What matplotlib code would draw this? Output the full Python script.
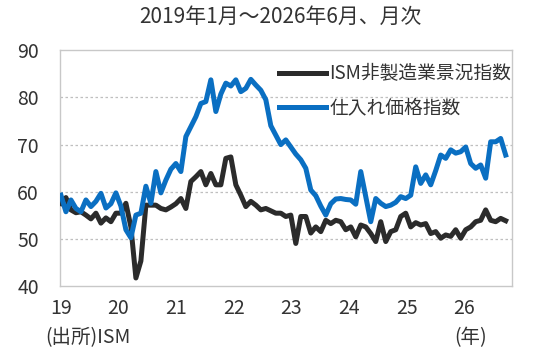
import numpy as np
import matplotlib
matplotlib.use('Agg')
import matplotlib.pyplot as plt

plt.rcParams['font.family'] = ['Noto Sans CJK JP', 'DejaVu Sans']

# monthly, 2019/01 - 2026/06
ism_services = [
    57.6, 58.8, 56.2, 55.6, 55.8, 55.1, 54.3, 55.5, 53.4, 54.5, 53.7, 55.5,   # 2019
    55.5, 57.6, 52.6, 41.8, 45.4, 57.2, 57.2, 57.2, 56.5, 56.2, 56.8, 57.5,   # 2020
    58.6, 56.5, 62.2, 63.2, 64.3, 61.5, 63.9, 61.5, 61.5, 67.1, 67.4, 61.5,   # 2021
    59.3, 56.9, 58.0, 57.2, 56.2, 56.5, 56.0, 55.5, 55.5, 54.8, 55.1, 49.1,   # 2022
    54.8, 54.8, 51.3, 52.6, 51.6, 54.0, 53.3, 54.0, 53.7, 52.0, 52.6, 50.5,   # 2023
    53.0, 52.6, 51.2, 49.5, 53.7, 49.5, 51.6, 52.0, 54.8, 55.5, 52.6, 53.5,   # 2024
    53.0, 53.3, 51.2, 51.6, 50.2, 50.9, 50.6, 52.0, 50.2, 52.0, 52.6, 53.7,   # 2025
    54.0, 56.2, 54.0, 53.7, 54.4, 53.9,                                       # 2026
]
prices = [
    59.3, 55.8, 58.3, 56.5, 55.8, 58.3, 56.9, 58.0, 59.7, 56.6, 57.5, 59.8,   # 2019
    57.0, 52.0, 50.3, 55.1, 55.5, 61.2, 57.6, 64.3, 59.8, 62.5, 64.8, 66.0,   # 2020
    64.3, 71.7, 73.8, 75.9, 78.7, 79.1, 83.7, 77.0, 80.7, 83.0, 82.4, 83.7,   # 2021
    81.2, 81.9, 83.8, 82.6, 81.5, 79.5, 74.0, 72.0, 70.0, 71.0, 69.5, 68.0,   # 2022
    66.8, 65.0, 60.4, 59.2, 57.0, 55.1, 57.5, 58.5, 58.6, 58.4, 58.3, 57.4,   # 2023
    64.3, 59.0, 53.7, 58.6, 57.6, 56.9, 57.2, 57.8, 59.0, 58.6, 59.3, 65.3,   # 2024
    61.8, 63.6, 61.5, 64.5, 67.8, 67.1, 68.9, 68.2, 68.5, 69.5, 66.0, 65.0,   # 2025
    65.7, 62.9, 70.6, 70.6, 71.3, 67.8,                                       # 2026
]
year_labels = ['19', '20', '21', '22', '23', '24', '25', '26']
names = ['ISM非製造業景況指数', '仕入れ価格指数']

blue = '#0A6FC2'
dark = '#2B2B2B'
txt = '#333333'

fig = plt.figure(figsize=(5.4, 3.55), dpi=100)
ax = fig.add_axes([0.111, 0.193, 0.837, 0.666])

x = np.arange(len(ism_services))
ax.plot(x, ism_services, color=dark, lw=3.6, solid_joinstyle='round', label=names[0], zorder=3)
ax.plot(x, prices, color=blue, lw=3.6, solid_joinstyle='round', label=names[1], zorder=3)

ax.set_xlim(-0.2, 90.25)
ax.set_ylim(40, 90)
ax.set_yticks([40, 50, 60, 70, 80, 90])
ax.set_xticks(np.arange(len(year_labels)) * 11.53)
ax.set_xticklabels(year_labels)
ax.tick_params(length=0, labelsize=14, colors=txt)
ax.tick_params(axis='y', pad=15)
ax.tick_params(axis='x', pad=8)

for v in [50, 60, 70, 80]:
    ax.axhline(v, color='#BFBFBF', lw=0.9, ls=(0, (2, 2)), zorder=1)
for s in ax.spines.values():
    s.set_color('#C8C8C8')
    s.set_linewidth(1.0)

leg = ax.legend(loc='upper left', bbox_to_anchor=(0.468, 0.975), frameon=False,
                fontsize=13.5, handlelength=2.5, handletextpad=0.2,
                labelspacing=0.7, borderaxespad=0)
for t in leg.get_texts():
    t.set_color(txt)

fig.text(0.52, 0.952, '2019年1月～2026年6月、月次', ha='center', va='center',
         fontsize=15, color=txt)
fig.text(0.083, 0.05, '(出所)ISM', ha='left', va='center', fontsize=14, color=txt)
fig.text(0.872, 0.05, '(年)', ha='center', va='center', fontsize=14, color=txt)

fig.savefig('out.png', dpi=100)
